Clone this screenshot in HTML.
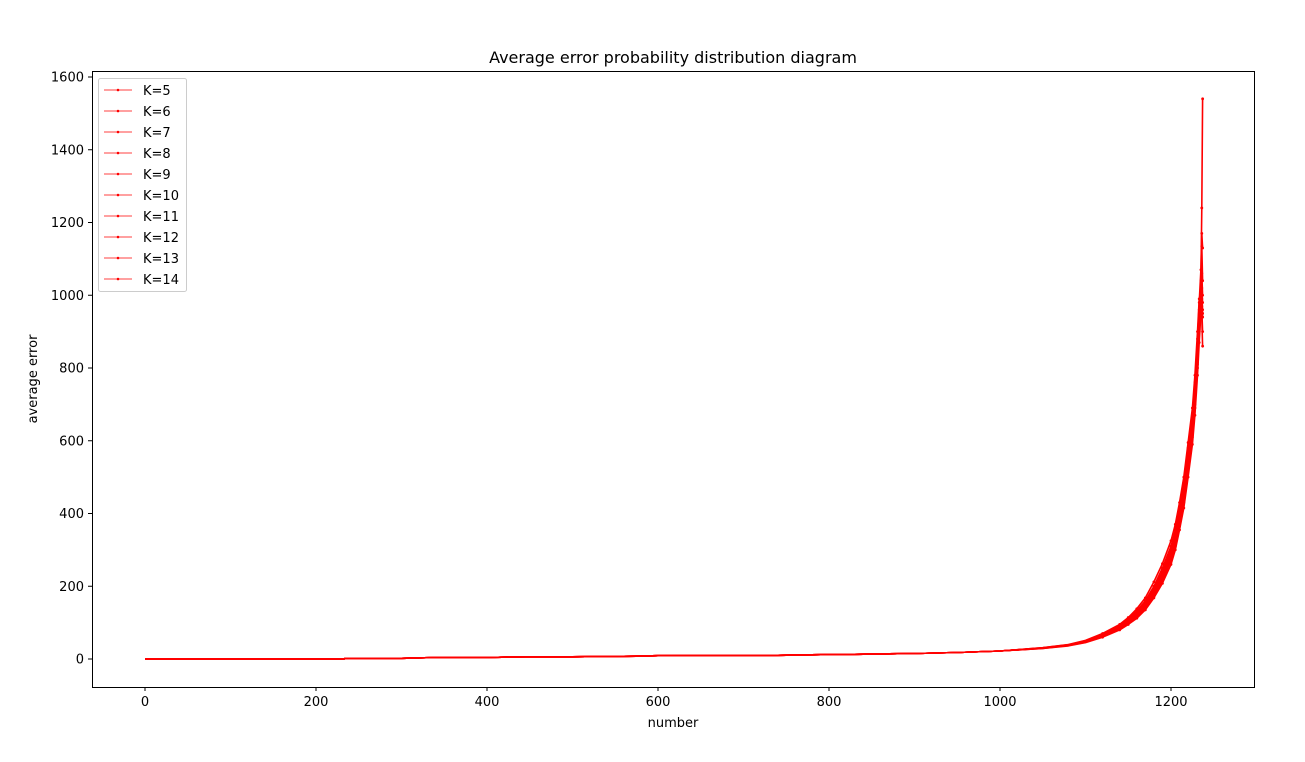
<!DOCTYPE html>
<html><head><meta charset="utf-8"><style>
body{margin:0;background:#fff;}
svg text{font-family:"DejaVu Sans","Liberation Sans",sans-serif;fill:#000;}
</style></head><body>
<svg id="chart" width="1305" height="757" xmlns="http://www.w3.org/2000/svg">
<rect width="1305" height="757" fill="#fff"/>
<text x="673" y="63" font-size="16" text-anchor="middle">Average error probability distribution diagram</text>
<g id="plot"></g>
<rect x="92.5" y="71.5" width="1162" height="616" fill="none" stroke="#000" stroke-width="1"/>
<g id="ticks"></g>
<text x="673" y="727" font-size="13" text-anchor="middle">number</text>
<text transform="translate(37,379) rotate(-90)" font-size="13" text-anchor="middle">average error</text>
<g id="legend"></g>
</svg>
<script>
const xs=[0,100,200,233,234,300,340,400,445,500,580,600,700,730,800,830,900,950,1000,1050,1080,1100,1120,1140,1150,1160,1170,1180,1190,1200,1205,1210,1215,1220,1225,1228,1231,1233,1235,1236,1237];
const labels=["K=5","K=6","K=7","K=8","K=9","K=10","K=11","K=12","K=13","K=14"];
const s0=[0,0,0,0,2,2,4,4,6,6,8,9,10,10,12,13,15,18,22,30,38,48,65,88,105,125,150,190,235,295,340,400,470,560,650,740,850,940,1040,1240,1540];
const s1=[0,0,0,0,2,2,4,4,6,6,8,9,10,10,12,13,15,18,22,31,39,50,68,92,110,132,160,200,250,310,355,415,485,580,670,760,880,980,1070,1170,1130];
const s2=[0,0,0,0,2,2,4,4,6,6,8,9,10,10,12,13,15,18,22,29,37,46,62,82,98,116,140,175,215,270,310,365,430,520,610,690,800,900,1000,1135,1040];
const s3=[0,0,0,0,2,2,4,4,6,6,8,9,10,10,12,13,15,18,22,30,38,49,66,90,107,128,155,195,240,300,345,400,465,560,650,740,860,960,1030,1060,1000];
const s4=[0,0,0,0,2,2,4,4,6,6,8,9,10,10,12,13,15,18,22,30,37,47,63,84,100,119,143,180,220,275,315,370,435,525,615,700,810,910,990,1020,980];
const s5=[0,0,0,0,2,2,4,4,6,6,8,9,10,10,12,13,15,18,22,31,40,51,70,95,114,138,168,212,262,325,370,430,500,595,690,780,900,990,1010,1000,960];
const s6=[0,0,0,0,2,2,4,4,6,6,8,9,10,10,12,13,15,18,22,29,36,45,60,80,95,112,135,168,208,260,300,355,415,500,590,670,780,870,950,990,940];
const s7=[0,0,0,0,2,2,4,4,6,6,8,9,10,10,12,13,15,18,22,30,38,48,64,86,102,121,147,185,228,285,330,385,450,540,630,720,820,920,980,970,950];
const s8=[0,0,0,0,2,2,4,4,6,6,8,9,10,10,12,13,15,18,22,30,39,49,67,89,106,126,153,192,236,295,340,395,460,550,640,730,840,930,970,960,900];
const s9=[0,0,0,0,2,2,4,4,6,6,8,9,10,10,12,13,15,18,22,30,38,47,64,85,101,120,145,182,223,280,322,378,440,530,620,705,815,905,960,940,860];
const series=[s0,s1,s2,s3,s4,s5,s6,s7,s8,s9];
const xTicks=[0,200,400,600,800,1000,1200];
const yTicks=[0,200,400,600,800,1000,1200,1400,1600];
const NS="http://www.w3.org/2000/svg";
const X=v=>145+v*0.855, Y=v=>659-v*0.36375;
const plot=document.getElementById('plot'),ticks=document.getElementById('ticks'),leg=document.getElementById('legend');
function mk(t,a,p){const e=document.createElementNS(NS,t);for(const k in a)e.setAttribute(k,a[k]);p.appendChild(e);return e;}
series.forEach((s,i)=>{
  const g=mk('g',{},plot);
  
  
  const d=s.map((v,j)=>(j?'L':'M')+X(xs[j]).toFixed(1)+','+Y(v).toFixed(1)).join('');
  const p=mk('path',{d:d,fill:'none',stroke:'#f00','stroke-width':1.6,'stroke-linejoin':'round'},g);
  
  
  s.forEach((v,j)=>{if(xs[j]>1100){const c=mk('circle',{cx:X(xs[j]),cy:Y(v),r:1.4,fill:'#f00'},g);
    
    }});
});
xTicks.forEach(v=>{const g=mk('g',{},ticks);
  
  
  mk('line',{x1:X(v),x2:X(v),y1:687,y2:691,stroke:'#000'},g);
  const t=mk('text',{x:X(v),y:706,'font-size':13,'text-anchor':'middle'},g);t.textContent=v;});
yTicks.forEach(v=>{const g=mk('g',{},ticks);
  
  
  mk('line',{x1:88,x2:92,y1:Y(v),y2:Y(v),stroke:'#000'},g);
  const t=mk('text',{x:84,y:Y(v)+4.5,'font-size':13,'text-anchor':'end'},g);t.textContent=v;});
mk('rect',{x:98.5,y:78.5,width:88,height:213,rx:2,fill:'#fff',stroke:'#ccc'},leg);
labels.forEach((l,i)=>{const y=90+i*21;const g=mk('g',{},leg);
  
  
  mk('line',{x1:104,x2:132,y1:y,y2:y,stroke:'#f00','stroke-width':0.8},g);
  mk('circle',{cx:118,cy:y,r:1.3,fill:'#f00'},g);
  const t=mk('text',{x:143,y:y+5,'font-size':13},g);t.textContent=l;});
</script>
</body></html>
